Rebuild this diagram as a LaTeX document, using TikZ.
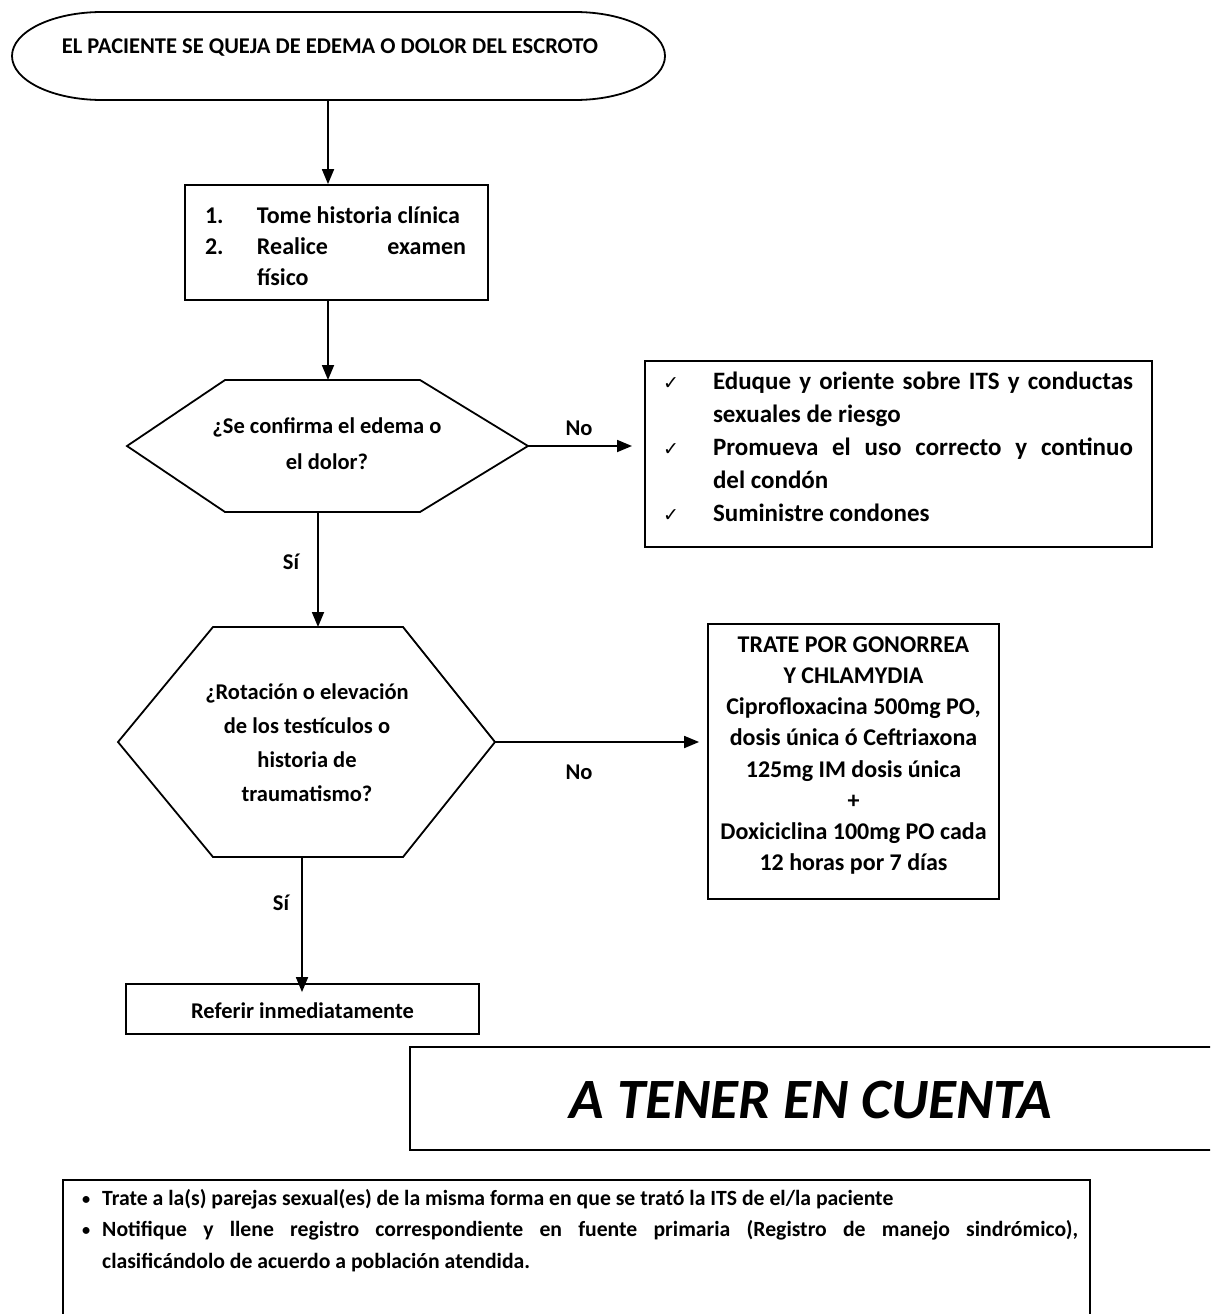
\documentclass[tikz,border=0pt]{standalone}
\usepackage{fontspec}
\setmainfont{Carlito}
\newfontfamily\symfont{DejaVu Sans}
\usetikzlibrary{arrows.meta}

\newcommand{\chk}{{\symfont\fontsize{19}{19}\selectfont\mdseries ✓}}
\newcommand{\dotmark}{\raisebox{1pt}{\scalebox{0.75}{\textbullet}}}

\begin{document}
\begin{tikzpicture}[x=1pt, y=-1pt,
  every node/.style={font=\bfseries\fontsize{22.5}{31}\selectfont, inner sep=0pt},
  frame/.style={draw, line width=1.8pt, rectangle},
  outline/.style={draw, line width=1.8pt, line join=miter},
  arr/.style={-{Triangle[length=15pt,width=12pt]}, line width=1.8pt},
  lbl/.style={font=\bfseries\fontsize{22.5}{24}\selectfont}
]
\useasboundingbox (0,0) rectangle (1210,1314);
\clip (0,0) rectangle (1210,1314);

% start terminal: a bar with elliptic ends
\node[minimum width=653pt, minimum height=88pt] (start) at (338.5,56) {};
\draw[line width=1.8pt] (102,12) -- (575,12)
  .. controls (624.7,12) and (665,31.7) .. (665,56)
  .. controls (665,80.3) and (624.7,100) .. (575,100) -- (102,100)
  .. controls (52.3,100) and (12,80.3) .. (12,56)
  .. controls (12,31.7) and (52.3,12) .. (102,12) -- cycle;
\node (starttxt) at (330,48) {EL PACIENTE SE QUEJA DE EDEMA O DOLOR DEL ESCROTO};

% history and examination
\node[frame, minimum width=303pt, minimum height=115pt] (hist) at (336.5,242.5) {};
\node[font=\bfseries\fontsize{24}{31}\selectfont] (histtxt) at (335.5,248) {%
  \begin{tabular}{@{}p{52pt}@{}p{209pt}@{}}
  1. & Tome historia clínica\\
  2. & Realice examen\linebreak físico
  \end{tabular}};

% first decision
\coordinate (hAtl) at (225,380);
\coordinate (hAtop) at (328,380);
\coordinate (hAtr) at (420,380);
\coordinate (hAright) at (528,446);
\coordinate (hAbr) at (420,512);
\coordinate (hAbot) at (318,512);
\coordinate (hAbl) at (225,512);
\coordinate (hAleft) at (127,446);
\draw[outline] (hAtl) -- (hAtr) -- (hAright) -- (hAbr) -- (hAbl) -- (hAleft) -- cycle;
\node[align=center, font=\bfseries\fontsize{22.5}{36}\selectfont] (qA) at (327,444) {¿Se confirma el edema o\\el dolor?};

% counselling box
\node[frame, minimum width=507pt, minimum height=186pt] (edu) at (898.5,454) {};
\node[font=\bfseries\fontsize{25}{33}\selectfont] (edutxt) at (898,449) {%
  \begin{tabular}{@{}p{50pt}@{}p{420pt}@{}}
  \chk & Eduque y oriente sobre ITS y conductas sexuales de riesgo\\
  \chk & Promueva el uso correcto y continuo\linebreak del condón\\
  \chk & Suministre condones
  \end{tabular}};
\coordinate (eduin) at (632,446);

% second decision
\coordinate (hBtl) at (213,627);
\coordinate (hBtop) at (318,627);
\coordinate (hBtr) at (403,627);
\coordinate (hBright) at (495,742);
\coordinate (hBbr) at (403,857);
\coordinate (hBbot) at (302,857);
\coordinate (hBbl) at (213,857);
\coordinate (hBleft) at (118,742);
\draw[outline] (hBtl) -- (hBtr) -- (hBright) -- (hBbr) -- (hBbl) -- (hBleft) -- cycle;
\node[align=center, font=\bfseries\fontsize{22.5}{34}\selectfont] (qB) at (307,742.5) {¿Rotación o elevación\\de los testículos o\\historia de\\traumatismo?};

% treatment box
\node[frame, minimum width=291pt, minimum height=275pt] (trat) at (853.5,761.5) {};
\node[align=center, font=\bfseries\fontsize{24}{31.2}\selectfont] (trattxt) at (853.5,755.5) {TRATE POR GONORREA\\Y CHLAMYDIA\\Ciprofloxacina 500mg PO,\\dosis única ó Ceftriaxona\\125mg IM dosis única\\+\\Doxiciclina 100mg PO cada\\12 horas por 7 días};

% referral
\node[frame, minimum width=353pt, minimum height=50pt] (ref) at (302.5,1009) {};
\node (reftxt) at (302.5,1011) {Referir inmediatamente};

% connectors
\draw[arr] ([xshift=-10.5pt]start.south) -- ([xshift=-8.5pt]hist.north);
\draw[arr] ([xshift=-8.5pt]hist.south) -- (hAtop);
\draw[arr] (hAright) -- (eduin);
\node[lbl] (noA) at (579,428) {No};
\draw[arr] (hAbot) -- (hBtop);
\node[lbl] (siA) at (291,562) {Sí};
\draw[arr] (hBright) -- ([xshift=-8pt]trat.west |- hBright);
\node[lbl] (noB) at (579,772) {No};
\draw[arr] (hBbot) -- ([yshift=-9pt]ref.north -| hBbot);
\node[lbl] (siB) at (281,903) {Sí};

% notes heading
\node[frame, minimum width=830pt, minimum height=103pt] (note) at (825,1098.5) {};
\node[font=\bfseries\itshape\fontsize{57}{57}\selectfont] (notetxt) at (811,1100) {A TENER EN CUENTA};

% notes body
\node[frame, minimum width=1027pt, minimum height=150pt] (notes) at (576.5,1255) {};
\node[anchor=north west, font=\bfseries\fontsize{21.7}{31.5}\selectfont] (notestxt) at (82,1183) {%
  \begin{tabular}{@{}p{20pt}@{}p{976pt}@{}}
  \dotmark & Trate a la(s) parejas sexual(es) de la misma forma en que se trató la ITS de el/la paciente\\
  \dotmark & Notifique y llene registro correspondiente en fuente primaria (Registro de manejo sindrómico),\linebreak clasificándolo de acuerdo a población atendida.
  \end{tabular}};
\end{tikzpicture}
\end{document}
